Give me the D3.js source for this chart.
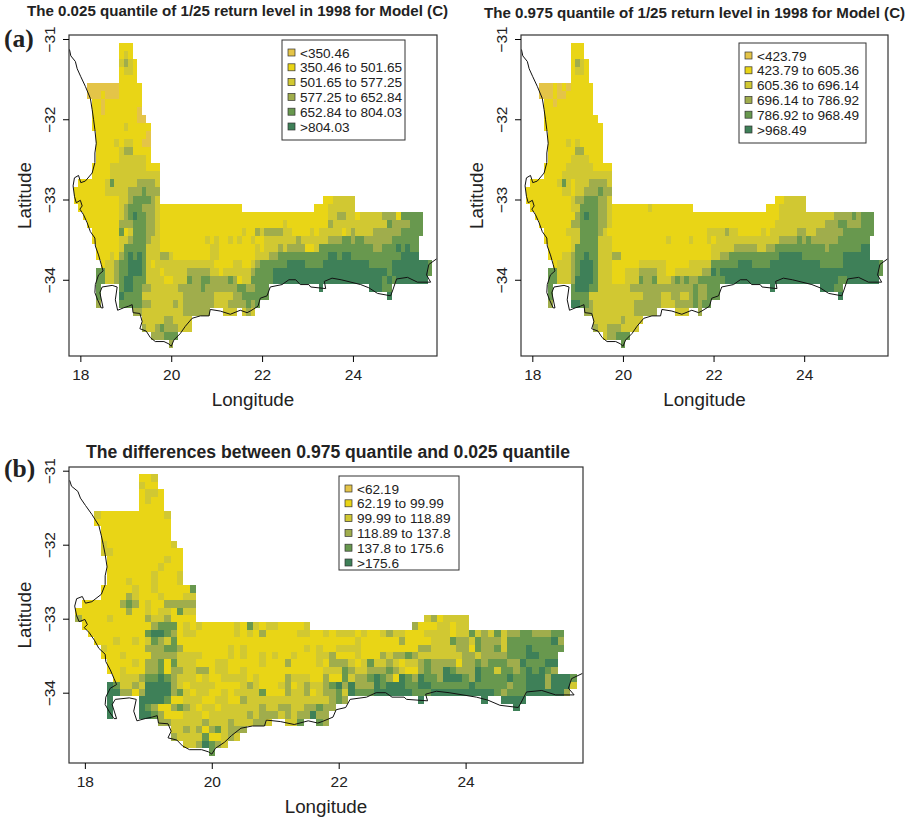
<!DOCTYPE html>
<html>
<head>
<meta charset="utf-8">
<script src="https://cdn.jsdelivr.net/npm/d3@7"></script>
<style>
body { margin: 0; background: #fff; }
text { font-family: "Liberation Sans", Arial, sans-serif; fill: #222; }
</style>
</head>
<body>
<div id="chart"></div>
<script>
var classColors = ["#e4c448", "#e9d516", "#d1c832", "#a0ad4c", "#68984e", "#3e8058"];

var labelsA = ["<350.46", "350.46 to 501.65", "501.65 to 577.25", "577.25 to 652.84", "652.84 to 804.03", ">804.03"];
var labelsB = ["<423.79", "423.79 to 605.36", "605.36 to 696.14", "696.14 to 786.92", "786.92 to 968.49", ">968.49"];
var labelsC = ["<62.19", "62.19 to 99.99", "99.99 to 118.89", "118.89 to 137.8", "137.8 to 175.6", ">175.6"];

var lonTicks = [18, 20, 22, 24];
var latTicks = [-31, -32, -33, -34];

var coastLon = [17.76, 17.79, 17.89, 17.93, 18.01, 18.11, 18.22, 18.26, 18.29, 18.32, 18.35, 18.32, 18.32, 18.26, 18.11, 18.01, 17.96, 17.87, 17.84, 17.87, 17.91, 18.00, 18.04, 17.99, 18.07, 18.15, 18.22, 18.32, 18.33, 18.40, 18.46, 18.50, 18.40, 18.33, 18.32, 18.38, 18.46, 18.50, 18.43, 18.48, 18.70, 18.81, 18.77, 18.82, 18.95, 19.06, 19.14, 19.16, 19.31, 19.36, 19.31, 19.45, 19.54, 19.65, 19.84, 19.95, 20.00, 20.06, 20.20, 20.31, 20.46, 20.64, 20.83, 20.86, 21.08, 21.30, 21.52, 21.67, 21.74, 21.91, 21.96, 22.11, 22.18, 22.44, 22.59, 22.74, 22.84, 23.03, 23.07, 23.40, 23.37, 23.54, 23.74, 24.17, 24.35, 24.54, 24.83, 24.87, 24.96, 25.20, 25.42, 25.71, 25.62, 25.67, 25.84];
var coastLat = [-31.13, -31.21, -31.28, -31.37, -31.47, -31.59, -31.74, -31.88, -32.00, -32.13, -32.30, -32.42, -32.54, -32.67, -32.77, -32.79, -32.70, -32.73, -32.83, -32.96, -33.04, -33.01, -33.08, -33.12, -33.19, -33.29, -33.40, -33.48, -33.58, -33.69, -33.81, -33.89, -33.94, -34.06, -34.16, -34.25, -34.35, -34.35, -34.16, -34.09, -34.07, -34.09, -34.25, -34.38, -34.35, -34.33, -34.31, -34.41, -34.42, -34.52, -34.61, -34.64, -34.72, -34.77, -34.77, -34.80, -34.83, -34.75, -34.67, -34.58, -34.48, -34.45, -34.45, -34.37, -34.39, -34.43, -34.38, -34.41, -34.39, -34.33, -34.23, -34.20, -34.09, -34.06, -34.00, -34.00, -34.06, -34.06, -34.09, -34.11, -34.02, -33.98, -34.00, -34.06, -34.10, -34.17, -34.20, -34.14, -33.99, -33.97, -34.03, -34.03, -33.94, -33.81, -33.74];

// one string per 0.1 degree of latitude from -31.1 down, "class fromCol toCol" with
// column 0 = 18.2E; later runs overwrite earlier ones
var gridA = [
  "1 7 9",
  "1 7 9,2 8",
  "1 7 10,2 7,3 8,2 9",
  "1 7 10,2 8 9",
  "1 7 10",
  "1 0 11,0 0 6",
  "1 0 11,0 0 2,0 4 6",
  "1 1 11,0 3",
  "1 1 11,0 3,0 11",
  "1 1 12,0 11 12",
  "1 1 13,2 8",
  "1 2 13,0 13",
  "1 2 13,2 6,2 8 9,0 12 13",
  "1 2 13,2 7,3 8 9",
  "1 2 13,2 7 12",
  "1 1 15,2 5 12",
  "1 1 15,2 5 15",
  "1 -2 15,2 4 15,4 5,3 11 14",
  "1 -3 15,2 4 8,3 9 11,4 12,3 13 15",
  "1 -3 15,2 7 8,3 9,4 10 13,3 14,2 15,1 52 53,2 54 58",
  "1 -2 33,2 7,3 8,4 9 11,3 12 14,2 15,1 50 52,2 53 58",
  "1 -1 73,2 7,3 8,4 9,5 10,4 11 12,3 13 14,2 15,2 53 54,3 55 56,2 57 58,2 60 64,3 65 67,4 69 73",
  "1 0 73,3 7 9,4 10 12,3 13 14,2 15,2 43,3 53,2 54 65,4 66,3 67 70,4 71 73",
  "1 1 73,4 7,2 9,4 10 12,3 13 14,2 15,2 34,3 37,2 38,3 39 42,2 43 44,2 49,2 51 55,2 57,3 58,2 59 62,3 63 68,4 69 73",
  "1 1 72,2 7 8,3 9,4 10 12,3 13,2 14 15,2 26,2 28,2 31,2 33,2 36,2 39 45,3 46,2 47 52,3 53 55,4 56 57,3 58,4 59 60,3 61 66,4 67 72",
  "1 2 72,2 7,4 8 12,2 13 15,2 27 28,2 37,2 39 41,3 42,2 43,3 44 47,2 50,4 51 62,3 63 64,4 65 67,5 68,4 69,5 70,4 71 72",
  "1 2 72,2 5,3 7,4 8,5 9,4 10,5 11,4 12,2 13 15,3 16 17,2 18,2 27 28,2 37 39,3 40 41,4 42 52,5 53 54,4 55,5 56 57,4 58 68,5 69 72",
  "1 3 75,2 4 5,3 6,4 7 8,5 9 11,4 12,2 13,2 15 27,2 32 33,2 36,3 37,4 38 43,5 44 47,4 48 51,5 52 61,4 62 66,5 67 74,4 75",
  "2 2 75,4 2 3,3 6,4 7 8,5 9 11,4 12,1 16,3 22 26,1 29,3 36,4 37 40,5 41 65,4 66,5 67 74,4 75",
  "3 2 74,4 2 3,2 4 5,3 6,4 7,5 8 9,4 10 12,2 13 16,1 17 18,2 19 21,4 22,3 23 24,4 25 26,3 27 30,4 31,3 32,1 33,2 34 35,4 36 40,5 41 64,4 65,5 66,4 67,5 68 74",
  "4 2,4 7,5 8 9,4 10 11,3 12 13,2 14 19,3 20 24,4 25,3 26 32,4 33 34,3 35 36,4 37 39,5 51,5 62 64,4 65 66",
  "4 2,5 7,4 8 11,2 12 20,3 21 27,2 28 31,3 32 33,4 34 39,5 66",
  "3 2,4 7 11,3 12 13,2 14 18,3 19,2 20,3 21 27,2 28 30,3 31 34,4 35,3 36,4 37",
  "3 10 11,2 12 20,3 21 26,2 30 32,2 34,3 35,2 36",
  "2 12 22,3 17 18",
  "3 12,2 13 14,3 15,4 16,3 17 19,2 20 22",
  "3 14 16,4 17 19",
  "3 18"
];

var gridB = [
  "1 7 9",
  "1 7 9",
  "1 7 10,3 8,2 9",
  "1 7 10,2 8 9",
  "1 7 10",
  "1 0 11,0 0 2,0 4,0 6",
  "1 0 11,0 0 2,0 4 5",
  "1 1 11,0 3",
  "1 1 11",
  "1 1 12",
  "1 1 13",
  "1 2 13",
  "1 2 13,2 6,2 8",
  "1 2 13,3 8 9",
  "1 2 13,2 7 10",
  "1 1 15,2 6 11",
  "1 1 15,2 5 15",
  "1 -2 15,2 4,4 5,2 6,2 8 10,3 11 14,2 15",
  "1 -3 15,2 5 6,2 8 9,3 10 12,4 13,3 14 15",
  "1 -3 15,2 7,3 8 9,4 10 12,3 13 14,2 15,1 52 53,2 54 58",
  "1 -2 33,2 7 8,4 9 12,3 13 14,2 15,2 24,1 50 52,2 53 58",
  "1 -1 73,3 8,4 9,5 10,4 11 12,3 13 14,2 15,2 53 64,3 65 68,4 69,3 70,4 71 73",
  "1 0 73,3 7 8,4 9 12,3 13 14,2 15,2 52 62,3 63 65,4 66 67,3 68 70,4 71 73",
  "1 1 73,2 6,2 7 8,4 9 12,3 13,2 14,2 37 40,3 41,2 42 43,2 49,2 51 56,3 57 58,2 59 60,3 61 66,4 67 73",
  "1 1 72,2 7 8,4 9 12,2 13 15,2 28,2 33,2 37,2 39 52,3 53 56,4 57,3 58,4 59,3 60 65,4 66 72",
  "1 2 72,2 7,4 8 12,2 13 15,2 38,2 39 42,3 43 47,2 48 49,3 50 51,4 52 62,3 63,4 64 70,5 71 72",
  "1 2 72,2 5 6,3 7,4 8 9,5 10,4 11 12,2 13 15,3 16 17,2 38 39,3 40 41,4 42 52,5 53 57,4 58 66,5 67 72",
  "1 3 75,2 4 6,3 7,4 8,5 9 11,4 12,2 13 15,2 22 27,2 33 37,4 38 43,5 44 46,4 47 50,5 51 61,4 62 66,5 67 74,4 75",
  "2 2 75,4 2 3,3 7,4 8,5 9 11,4 12,1 16 18,3 22 25,1 28 29,3 36 37,5 38,4 39,5 40 74,4 75",
  "2 2 74,4 2 3,3 7,5 8 11,4 12,1 16 18,4 22,3 23 24,4 25,3 29,4 30,3 31,4 32,3 33 34,4 35 40,5 41 65,4 66 67,5 68 74",
  "4 2,4 7,5 8 10,4 11 12,2 13 19,3 20 33,4 34,3 35 36,4 37 39,5 51,5 62 64,4 65 66",
  "4 2,4 7 10,2 11 22,3 23 26,2 27 28,3 29 30,2 31 32,3 33,4 34,3 35 36,4 37 39,5 66",
  "3 2,5 7 8,4 9 10,3 11,2 12 20,3 21 26,2 27 29,3 30 33,4 34,3 35,4 36 37",
  "3 10 11,2 12 20,3 21 25,2 30 32,3 35",
  "2 12 22,3 18",
  "3 12,2 13 14,3 15 17,2 18 21",
  "2 14,3 15 16,4 17 19",
  "4 18"
];

var gridC = [
  "1 7 9,2 9",
  "1 7 9,2 7",
  "1 7 10,2 8 9",
  "1 7 10,2 8",
  "1 7 10",
  "1 0 11,2 0,2 11",
  "1 0 11",
  "1 1 11",
  "1 1 11",
  "1 1 12,2 1,2 12",
  "1 1 13,2 1 2",
  "1 2 13,2 11",
  "1 2 13,2 10",
  "1 2 13,2 9,2 13",
  "1 2 13,2 5,2 9,2 13",
  "1 1 15,2 6,2 9,4 15",
  "1 1 15,3 5,2 6,2 10,2 14 15",
  "1 -2 15,3 4,4 5,3 6,2 8,3 11 15",
  "1 -3 15,3 5,2 8,2 10 11,4 13,2 14 15",
  "1 -3 15,3 -3,2 2,3 8,2 9 10,3 11,2 52,3 53,1 54,2 55 58",
  "1 -2 33,3 9,4 10 12,2 14,2 16,2 22,4 24,2 25,2 27 28,2 33,3 50,1 51 53,2 54 55,1 56,2 57 58",
  "1 -1 73,4 8,5 9 10,4 11,3 12,2 14 15,2 22,2 24,3 26,2 32 33,2 36,2 38 40,2 42,2 45,3 46,2 47 48,2 52 55,2 57 58,4 59,2 60,3 61,2 62,4 63,2 64,3 65 66,4 67 68,3 69 71,4 72 73",
  "1 0 73,2 3,2 6,2 8,4 9,3 10,2 11,4 12,2 41,3 48,2 53 55,4 56,3 57 58,2 59,4 60,3 61 63,2 64,4 65 71,5 72,3 73",
  "1 1 73,2 1,3 8 10,4 11 12,3 13,2 21,2 23,2 33,2 35,2 38 41,3 51 52,2 53 56,3 57 58,4 60,3 61 62,4 63,2 64,4 65 67,5 68,4 69 73",
  "1 1 72,2 4,3 9 12,2 13 16,2 21,2 23,2 26,2 28,2 31,2 35,2 36,3 37,2 41,3 45,2 46,3 47 48,4 49,3 50,2 51 57,3 58 59,2 60,3 61 64,4 65 67,5 68 69,4 70 72",
  "1 2 72,2 6,3 8 9,4 10,4 12,2 13 15,2 19 20,2 26,3 30,2 35,3 37,3 38 39,2 40,2 42,4 43,2 44 45,3 46,2 47,2 49 50,3 51,4 52,3 53 56,3 58 59,4 60,3 61,4 62 64,3 65 66,5 67,4 68 70,5 71 72",
  "1 2 72,2 4,3 8 9,4 10,3 12 13,2 14 15,3 16 17,2 19 20,2 23,2 36 38,4 39,3 40,2 41 42,3 43 45,4 46,3 47,2 48,3 51,4 52,3 53 54,5 55,4 56,3 57 59,5 60,4 61 62,2 63,4 64 65,3 66,4 67,5 68,4 69,5 70,4 71,3 72",
  "1 3 75,2 4 6,3 7,4 8 9,5 10,4 11,3 12,2 13 15,2 17,2 20 23,2 25,3 30,2 31 33,3 36,3 39,4 39,2 40,3 41 42,4 43,5 44,4 45,3 46,5 48,4 49,3 50,5 51,4 52 53,3 54,5 55 57,4 58,3 59,5 60,4 61 64,5 65,4 66 67,5 68 70,3 71,5 72 74,4 75",
  "2 2 75,5 2,4 3,3 6,5 8 11,3 12,1 14,1 19 22,3 24,1 26 28,3 30,1 31,3 33,3 36,4 37,5 38,3 39,5 40,3 41 43,5 44,4 45,5 46 48,4 49 50,5 51 52,4 53 58,5 59,4 60 64,3 65,4 66 67,5 68 70,3 71,5 72 74",
  "2 2 74,5 2 3,3 4 5,1 6,3 7,5 8 11,3 12,4 13,1 15,1 18 19,1 21,4 26,1 27 29,3 30,3 33,1 34,3 36 37,4 38,5 40,4 41 43,5 44 49,4 50 52,5 53 62,4 63,3 64,4 65 67,5 68 73,3 74",
  "5 2,5 7 10,4 11,1 12 13,2 14 36,1 17 18,1 21 22,3 23,3 37,4 38,3 39,5 51,5 61,5 64 67",
  "5 2,5 7,4 8,3 9,1 10 11,3 12,4 13,3 14,2 15 37,1 16,1 19,3 26,3 29 30,3 33 34,4 35,3 36 37,5 66",
  "5 2,5 7 8,4 9,3 10,1 11 13,2 14 34,1 17,3 24,3 26 28,3 30,3 32 33,5 34,3 35 36",
  "3 10 11,2 12 27,3 17,3 21,3 25 26,2 30 31,4 32,4 35,3 36",
  "2 12 23,3 14,3 16,1 17,3 18,4 19,3 21 23",
  "3 12,2 13 22,2 14,4 17,1 18 19,3 21",
  "2 14 20,3 16,5 17,4 18,3 19",
  "4 18"
];

function expandGrid(rows) {
  var cells = [];
  rows.forEach(function(row, r) {
    var byCol = {};
    row.split(",").forEach(function(run) {
      var p = run.split(" ").map(Number);
      var end = p.length > 2 ? p[2] : p[1];
      for (var c = p[1]; c <= end; c++) byCol[c] = p[0];
    });
    for (var c in byCol) {
      cells.push({ lon: 18.2 + 0.1 * (+c), lat: -31.1 - 0.1 * r, cls: byCol[c] });
    }
  });
  return cells;
}

var svg = d3.select("#chart").append("svg").attr("width", 913).attr("height", 818);

function drawPanel(opt) {
  var x = d3.scaleLinear().domain([17.75, 25.85]).range([opt.left, opt.right]);
  var y = d3.scaleLinear().domain([-30.95, -34.95]).range([opt.top, opt.bottom]);
  var g = svg.append("g");

  g.append("clipPath").attr("id", opt.id).append("rect")
    .attr("x", opt.left).attr("y", opt.top)
    .attr("width", opt.right - opt.left).attr("height", opt.bottom - opt.top);

  g.append("g").selectAll("rect").data(expandGrid(opt.grid)).enter().append("rect")
    .attr("x", function(d) { return x(d.lon - 0.05); })
    .attr("y", function(d) { return y(d.lat + 0.05); })
    .attr("width", function(d) { return x(d.lon + 0.05) - x(d.lon - 0.05); })
    .attr("height", function(d) { return y(d.lat - 0.05) - y(d.lat + 0.05); })
    .attr("fill", function(d) { return classColors[d.cls]; })
    .attr("shape-rendering", "crispEdges");

  var coast = d3.line().x(function(d) { return x(d); })
    .y(function(d, i) { return y(coastLat[i]); });
  g.append("path").datum(coastLon).attr("d", coast)
    .attr("fill", "none").attr("stroke", "#111").attr("stroke-width", 1)
    .attr("clip-path", "url(#" + opt.id + ")");

  g.append("rect").attr("x", opt.left).attr("y", opt.top)
    .attr("width", opt.right - opt.left).attr("height", opt.bottom - opt.top)
    .attr("fill", "none").attr("stroke", "#333").attr("stroke-width", 1.2);

  var xAxis = g.append("g").attr("transform", "translate(0," + opt.bottom + ")")
    .call(d3.axisBottom(x).tickValues(lonTicks).tickSize(6).tickPadding(7).tickFormat(d3.format("d")));
  var yAxis = g.append("g").attr("transform", "translate(" + opt.left + ",0)")
    .call(d3.axisLeft(y).tickValues(latTicks).tickSize(6).tickFormat(function(d) { return "\u2212" + Math.abs(d); }));
  xAxis.select(".domain").remove();
  yAxis.select(".domain").remove();
  xAxis.selectAll("text").attr("font-size", 15.5).style("font-family", "Liberation Sans");
  yAxis.selectAll("text").attr("font-size", 15.5).style("font-family", "Liberation Sans")
    .attr("text-anchor", "middle").attr("dy", 0).attr("x", 0)
    .attr("transform", "translate(-14,0) rotate(-90)");

  g.append("text").attr("x", (opt.left + opt.right) / 2).attr("y", opt.bottom + 50)
    .attr("text-anchor", "middle").attr("font-size", 18.8).text("Longitude");
  g.append("text").attr("transform", "translate(" + (opt.left - 38) + "," + (opt.top + opt.bottom) / 2 + ") rotate(-90)")
    .attr("text-anchor", "middle").attr("font-size", 18.8).text("Latitude");

  g.append("text").attr("x", opt.titleX).attr("y", opt.titleY)
    .attr("font-weight", "bold").attr("font-size", opt.titleSize).text(opt.title);

  var lg = g.append("g").attr("transform", "translate(" + opt.legX + "," + opt.legY + ")");
  lg.append("rect").attr("width", opt.legW).attr("height", opt.legH)
    .attr("fill", "#fff").attr("stroke", "#333").attr("stroke-width", 1);
  var rows = lg.selectAll("g.entry").data(opt.labels).enter().append("g").attr("class", "entry")
    .attr("transform", function(d, i) { return "translate(0," + (12.5 + i * 14.8) + ")"; });
  rows.append("rect").attr("x", 6).attr("y", -3.5).attr("width", 7).attr("height", 7)
    .attr("fill", function(d, i) { return classColors[i]; })
    .attr("stroke", "#333").attr("stroke-width", 0.7);
  rows.append("text").attr("x", 18).attr("y", 5).attr("font-size", 13.6).text(function(d) { return d; });
}

drawPanel({ id: "clipA", grid: gridA, labels: labelsA, left: 69, right: 437, top: 35, bottom: 356,
  title: "The 0.025 quantile of 1/25 return level in 1998 for Model (C)", titleX: 27, titleY: 16, titleSize: 15.1,
  legX: 282, legY: 40, legW: 123, legH: 100 });
drawPanel({ id: "clipB", grid: gridB, labels: labelsB, left: 521, right: 888, top: 35, bottom: 356,
  title: "The 0.975 quantile of 1/25 return level in 1998 for Model (C)", titleX: 484, titleY: 18, titleSize: 15.1,
  legX: 739, legY: 43, legW: 127, legH: 100 });
drawPanel({ id: "clipC", grid: gridC, labels: labelsC, left: 69, right: 583, top: 467, bottom: 763,
  title: "The differences between 0.975 quantile and 0.025 quantile", titleX: 86, titleY: 458, titleSize: 17.6,
  legX: 339, legY: 476, legW: 120, legH: 94 });

svg.append("text").attr("x", 4).attr("y", 47).attr("font-size", 25.5).attr("font-weight", "bold")
  .style("font-family", "Liberation Serif").text("(a)");
svg.append("text").attr("x", 4).attr("y", 477).attr("font-size", 25.5).attr("font-weight", "bold")
  .style("font-family", "Liberation Serif").text("(b)");
</script>
</body>
</html>
